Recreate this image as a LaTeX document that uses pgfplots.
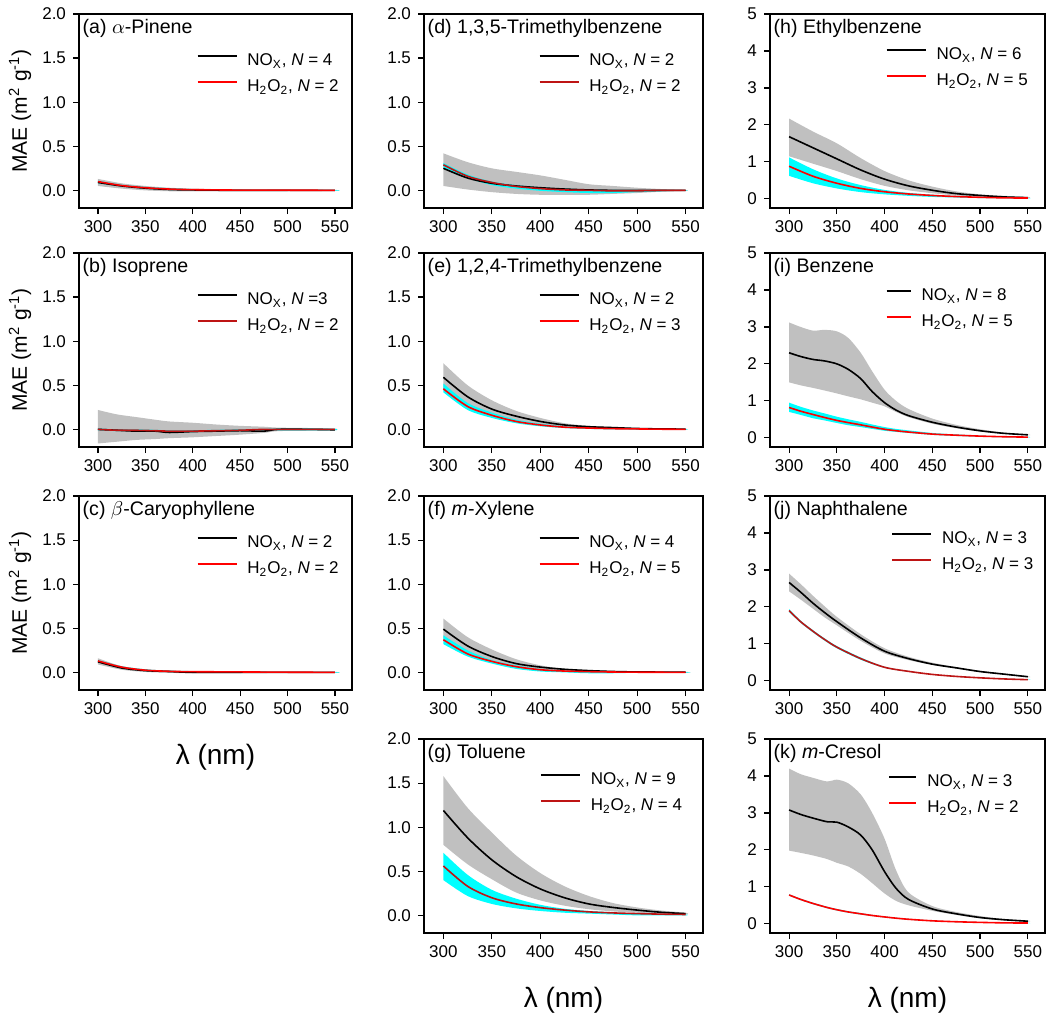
\documentclass[border=0pt]{standalone}
\usepackage{fontspec}
\setmainfont{Liberation Sans}
\usepackage{pgfplots}
\usepackage{pgfplotstable}
\pgfplotsset{compat=1.18}

\definecolor{bandgray}{RGB}{192,192,192}
\definecolor{bandcyan}{RGB}{0,255,255}
\definecolor{brightred}{RGB}{255,0,0}
\definecolor{darkred}{RGB}{190,20,20}

% mean curves: x, NOx (k), H2O2 (h)
% bands: x, gray band outline (g), cyan band outline (c); upper edge left to right, then lower edge back
\pgfplotstableread{
x k h
300 0.09 0.10
325 0.05 0.055
350 0.025 0.03
375 0.01 0.015
400 0.005 0.008
450 0.0 0.003
500 0.0 0.002
550 0.0 0.0
}\lA
\pgfplotstableread{
x g c
300 0.13 0.11
325 0.08 0.065
350 0.05 0.04
375 0.03 0.025
400 0.02 0.015
450 0.01 0.008
500 0.01 0.005
550 0.005 0.003
550 -0.005 -0.003
500 -0.01 -0.002
450 -0.01 -0.002
400 -0.01 0.0
375 -0.01 0.005
350 0.0 0.02
325 0.02 0.045
300 0.05 0.08
}\bA
\pgfplotstableread{
x k h
300 0.0 0.0
320 -0.01 -0.01
340 -0.02 -0.01
360 -0.02 -0.015
375 -0.035 -0.02
400 -0.025 -0.02
425 -0.02 -0.015
450 -0.015 -0.01
475 -0.02 0.0
490 0.0 0.0
525 0.0 0.0
550 -0.005 0.0
}\lB
\pgfplotstableread{
x g c
300 0.22 0.01
320 0.17 0.0
340 0.14 0.0
360 0.11 -0.005
375 0.09 -0.01
400 0.075 -0.01
425 0.055 -0.005
450 0.04 0.0
475 0.03 0.005
490 0.02 0.01
525 0.015 0.01
550 0.01 0.005
550 -0.01 -0.01
525 -0.015 -0.01
490 -0.02 -0.01
475 -0.04 -0.01
450 -0.06 -0.02
425 -0.075 -0.025
400 -0.09 -0.03
375 -0.10 -0.03
360 -0.11 -0.025
340 -0.12 -0.02
320 -0.14 -0.02
300 -0.16 -0.01
}\bB
\pgfplotstableread{
x k h
300 0.12 0.13
325 0.05 0.06
350 0.02 0.025
375 0.01 0.012
400 0.0 0.008
450 0.0 0.005
500 0.0 0.002
550 0.0 0.0
}\lC
\pgfplotstableread{
x g c
300 0.16 0.14
325 0.07 0.07
350 0.035 0.035
375 0.02 0.02
400 0.01 0.015
450 0.01 0.01
500 0.005 0.005
550 0.005 0.003
550 -0.005 -0.003
500 -0.005 -0.003
450 -0.01 0.0
400 -0.01 0.0
375 -0.005 0.005
350 0.005 0.015
325 0.03 0.05
300 0.09 0.12
}\bC
\pgfplotstableread{
x k h
300 0.25 0.29
325 0.14 0.16
350 0.08 0.09
375 0.05 0.045
400 0.03 0.02
425 0.015 0.005
450 0.005 0.0
475 0.0 -0.005
500 0.0 -0.005
525 0.0 0.0
550 0.0 0.0
}\lD
\pgfplotstableread{
x g c
300 0.42 0.31
325 0.32 0.18
350 0.25 0.10
375 0.21 0.06
400 0.17 0.035
425 0.12 0.02
450 0.07 0.01
475 0.05 0.005
500 0.03 0.0
525 0.015 0.0
550 0.005 0.002
550 -0.005 -0.002
525 -0.015 -0.01
500 -0.03 -0.02
475 -0.04 -0.03
450 -0.05 -0.03
425 -0.05 -0.02
400 -0.05 -0.005
375 -0.04 0.02
350 -0.02 0.06
325 0.01 0.14
300 0.05 0.26
}\bD
\pgfplotstableread{
x k h
300 0.59 0.46
325 0.37 0.26
350 0.23 0.16
375 0.15 0.09
400 0.09 0.05
425 0.05 0.025
450 0.03 0.015
475 0.02 0.008
500 0.01 0.005
525 0.005 0.002
550 0.003 0.0
}\lE
\pgfplotstableread{
x g c
300 0.75 0.52
325 0.50 0.30
350 0.33 0.19
375 0.21 0.11
400 0.13 0.065
425 0.07 0.035
450 0.04 0.02
475 0.025 0.012
500 0.015 0.008
525 0.01 0.005
550 0.005 0.003
550 0.0 -0.002
525 0.0 0.0
500 0.0 0.0
475 0.005 0.0
450 0.01 0.005
425 0.02 0.015
400 0.05 0.035
375 0.10 0.07
350 0.17 0.13
325 0.28 0.22
300 0.46 0.42
}\bE
\pgfplotstableread{
x k h
300 0.49 0.37
325 0.30 0.21
350 0.18 0.125
375 0.10 0.065
400 0.06 0.03
425 0.035 0.015
450 0.02 0.008
475 0.01 0.004
500 0.005 0.002
550 0.002 0.0
}\lF
\pgfplotstableread{
x g c
300 0.61 0.42
325 0.40 0.25
350 0.26 0.14
375 0.15 0.08
400 0.08 0.04
425 0.04 0.02
450 0.025 0.01
475 0.015 0.005
500 0.01 0.003
550 0.005 0.002
550 -0.002 -0.003
500 0.0 -0.005
475 0.0 -0.01
450 0.0 -0.01
425 0.01 0.0
400 0.03 0.01
375 0.06 0.04
350 0.12 0.10
325 0.22 0.18
300 0.38 0.32
}\bF
\pgfplotstableread{
x k h
300 1.19 0.56
325 0.88 0.33
350 0.63 0.20
375 0.44 0.13
400 0.30 0.088
425 0.20 0.06
450 0.13 0.04
475 0.09 0.028
500 0.06 0.02
525 0.035 0.014
550 0.02 0.01
}\lG
\pgfplotstableread{
x g c
300 1.58 0.71
325 1.22 0.46
350 0.94 0.29
375 0.68 0.19
400 0.48 0.12
425 0.33 0.075
450 0.22 0.05
475 0.14 0.035
500 0.09 0.02
525 0.055 0.015
550 0.03 0.01
550 0.01 0.0
525 0.015 0.0
500 0.03 0.0
475 0.045 0.01
450 0.07 0.02
425 0.11 0.03
400 0.17 0.05
375 0.26 0.08
350 0.41 0.13
325 0.58 0.22
300 0.80 0.40
}\bG
\pgfplotstableread{
x k h
300 1.68 0.88
325 1.38 0.61
350 1.08 0.42
375 0.78 0.28
400 0.53 0.19
425 0.35 0.13
450 0.23 0.09
475 0.14 0.06
500 0.09 0.04
525 0.05 0.025
550 0.03 0.02
}\lH
\pgfplotstableread{
x g c
300 2.17 1.12
325 1.82 0.80
350 1.50 0.55
375 1.10 0.37
400 0.75 0.24
425 0.50 0.16
450 0.33 0.11
475 0.20 0.075
500 0.12 0.05
525 0.08 0.035
550 0.05 0.02
550 0.02 0.01
525 0.035 0.015
500 0.06 0.02
475 0.09 0.035
450 0.15 0.05
425 0.23 0.08
400 0.35 0.12
375 0.53 0.18
350 0.75 0.28
325 0.95 0.42
300 1.15 0.62
}\bH
\pgfplotstableread{
x k h
300 2.30 0.82
312 2.20 0.72
325 2.12 0.63
337 2.08 0.55
350 2.00 0.47
362 1.85 0.41
375 1.60 0.35
387 1.25 0.29
400 0.95 0.23
412 0.75 0.19
425 0.60 0.155
450 0.42 0.10
475 0.29 0.07
500 0.19 0.045
525 0.12 0.028
550 0.08 0.018
}\lI
\pgfplotstableread{
x g c
300 3.12 0.95
312 3.00 0.84
325 2.90 0.74
337 2.92 0.66
350 2.88 0.57
362 2.70 0.50
375 2.30 0.43
387 1.80 0.36
400 1.30 0.29
412 1.00 0.24
425 0.78 0.20
450 0.52 0.13
475 0.35 0.09
500 0.23 0.06
525 0.14 0.035
550 0.09 0.025
550 0.07 0.01
525 0.11 0.015
500 0.17 0.03
475 0.26 0.05
450 0.38 0.08
425 0.56 0.13
412 0.70 0.16
400 0.85 0.19
387 0.95 0.24
375 1.04 0.29
362 1.12 0.34
350 1.20 0.40
337 1.28 0.47
325 1.35 0.53
312 1.42 0.62
300 1.50 0.70
}\bI
\pgfplotstableread{
x k h
300 2.66 1.90
312 2.40 1.60
325 2.10 1.34
337 1.85 1.12
350 1.60 0.91
375 1.16 0.60
400 0.80 0.365
425 0.60 0.255
450 0.45 0.172
475 0.35 0.118
500 0.25 0.08
525 0.18 0.05
550 0.11 0.03
}\lJ
\pgfplotstableread{
x g c
300 2.90 1.94
312 2.62 1.63
325 2.30 1.37
337 2.02 1.15
350 1.73 0.94
375 1.26 0.63
400 0.88 0.38
425 0.65 0.265
450 0.49 0.18
475 0.37 0.125
500 0.27 0.085
525 0.19 0.055
550 0.12 0.035
550 0.10 0.025
525 0.17 0.045
500 0.24 0.075
475 0.33 0.11
450 0.43 0.165
425 0.56 0.245
400 0.74 0.35
375 1.08 0.57
350 1.50 0.88
337 1.72 1.09
325 1.95 1.31
312 2.20 1.57
300 2.42 1.86
}\bJ
\pgfplotstableread{
x k h
300 3.08 0.78
312 2.96 0.66
325 2.86 0.55
340 2.76 0.44
350 2.75 0.38
362 2.62 0.32
375 2.40 0.27
387 2.00 0.225
400 1.41 0.185
412 0.96 0.152
425 0.66 0.122
450 0.40 0.08
475 0.27 0.055
500 0.17 0.038
525 0.11 0.025
550 0.07 0.02
}\lK
\pgfplotstableread{
x g c
300 4.20 0.80
312 4.05 0.68
325 3.95 0.57
340 3.85 0.46
350 3.90 0.40
362 3.80 0.34
375 3.50 0.29
387 3.00 0.24
400 2.30 0.20
412 1.45 0.165
425 0.85 0.135
450 0.48 0.09
475 0.32 0.065
500 0.21 0.045
525 0.13 0.03
550 0.09 0.025
550 0.06 0.015
525 0.09 0.02
500 0.15 0.03
475 0.24 0.045
450 0.35 0.07
425 0.50 0.11
412 0.62 0.14
400 0.82 0.17
387 1.10 0.21
375 1.35 0.25
362 1.55 0.30
350 1.65 0.36
340 1.75 0.42
325 1.85 0.53
312 1.92 0.64
300 1.98 0.76
}\bK

\pgfplotsset{
  panel/.style={
    scale only axis, height=97pt,
    xmin=280, xmax=568,
    xtick={300,350,400,450,500,550},
    tick pos=left, tick align=outside,
    major tick length=3pt,
    axis line style={line width=0.6pt},
    every tick/.style={black, line width=0.6pt},
    tick label style={font=\fontsize{8.5}{10}\selectfont},
    /pgf/number format/assume math mode=true,
    legend cell align=left,
    legend image code/.code={\draw[##1] (0pt,2.6pt) -- (19.5pt,2.6pt);},
    legend style={draw=none, fill=none, inner sep=0pt,
      font=\fontsize{8.5}{10}\selectfont,
      nodes={inner sep=0pt, text height=6.2pt, text depth=1.8pt},
      row sep=5pt, column sep=5pt,
      at={(axis description cs:0.43,0.80)}, anchor=north west},
  },
  lo/.style={ymin=-0.2, ymax=2, ytick={0,0.5,1,1.5,2},
    yticklabel style={/pgf/number format/fixed,
      /pgf/number format/fixed zerofill, /pgf/number format/precision=1}},
  hi/.style={ymin=-0.25, ymax=5, ytick={0,1,2,3,4,5}},
  ylab/.style={ylabel={MAE (m\textsuperscript{2} g\textsuperscript{-1})},
    ylabel style={at={(axis description cs:-0.216,0.5)}, anchor=center,
      font=\fontsize{10.5}{12}\selectfont}},
  xlab/.style={xlabel={λ (nm)},
    xlabel style={at={(axis description cs:0.5,-0.345)}, anchor=center,
      font=\fontsize{14}{16}\selectfont}},
}

% #1 band table, #2 line table, #3 colour of the H2O2 line
\newcommand\curves[3]{%
  \addplot[fill=bandgray, draw=none, smooth, forget plot] table[x=x, y=g] {#1};
  \addplot[fill=bandcyan, draw=none, smooth, forget plot] table[x=x, y=c] {#1};
  \addplot[black, line width=0.8pt, smooth] table[x=x, y=k] {#2};
  \addplot[#3, line width=0.8pt, smooth] table[x=x, y=h] {#2};
}
\newcommand\ptitle[1]{\node[anchor=west, inner sep=0pt, font=\fontsize{9.8}{11}\selectfont]
  at (rel axis cs:0.012,0.925) {#1};}

\begin{document}
\begin{tikzpicture}
\path[use as bounding box] (0pt,0pt) rectangle (525pt,-509.5pt);

% column 1
\begin{axis}[panel, lo, ylab, width=136.5pt, at={(39.5pt,-7pt)}, anchor=north west]
\curves{\bA}{\lA}{brightred}
\addlegendentry{NO\textsubscript{X}, \textit{N} = 4}
\addlegendentry{H\textsubscript{2}O\textsubscript{2}, \textit{N} = 2}
\ptitle{(a) $\alpha$-Pinene}
\end{axis}

\begin{axis}[panel, lo, ylab, width=136.5pt, at={(39.5pt,-126.5pt)}, anchor=north west]
\curves{\bB}{\lB}{darkred}
\addlegendentry{NO\textsubscript{X}, \textit{N} =3}
\addlegendentry{H\textsubscript{2}O\textsubscript{2}, \textit{N} = 2}
\ptitle{(b) Isoprene}
\end{axis}

\begin{axis}[panel, lo, ylab, xlab, width=136.5pt, at={(39.5pt,-248pt)}, anchor=north west]
\curves{\bC}{\lC}{brightred}
\addlegendentry{NO\textsubscript{X}, \textit{N} = 2}
\addlegendentry{H\textsubscript{2}O\textsubscript{2}, \textit{N} = 2}
\ptitle{(c) $\beta$-Caryophyllene}
\end{axis}

% column 2
\begin{axis}[panel, lo, width=139.5pt, at={(212pt,-7pt)}, anchor=north west,
  legend style={at={(axis description cs:0.41,0.80)}}]
\curves{\bD}{\lD}{darkred}
\addlegendentry{NO\textsubscript{X}, \textit{N} = 2}
\addlegendentry{H\textsubscript{2}O\textsubscript{2}, \textit{N} = 2}
\ptitle{(d) 1,3,5-Trimethylbenzene}
\end{axis}

\begin{axis}[panel, lo, width=139.5pt, at={(212pt,-126.5pt)}, anchor=north west,
  legend style={at={(axis description cs:0.41,0.80)}}]
\curves{\bE}{\lE}{brightred}
\addlegendentry{NO\textsubscript{X}, \textit{N} = 2}
\addlegendentry{H\textsubscript{2}O\textsubscript{2}, \textit{N} = 3}
\ptitle{(e) 1,2,4-Trimethylbenzene}
\end{axis}

\begin{axis}[panel, lo, width=139.5pt, at={(212pt,-248pt)}, anchor=north west,
  legend style={at={(axis description cs:0.41,0.80)}}]
\curves{\bF}{\lF}{brightred}
\addlegendentry{NO\textsubscript{X}, \textit{N} = 4}
\addlegendentry{H\textsubscript{2}O\textsubscript{2}, \textit{N} = 5}
\ptitle{(f) \textit{m}-Xylene}
\end{axis}

\begin{axis}[panel, lo, xlab, width=139.5pt, at={(212pt,-369.5pt)}, anchor=north west,
  legend style={at={(axis description cs:0.415,0.83)}}]
\curves{\bG}{\lG}{darkred}
\addlegendentry{NO\textsubscript{X}, \textit{N} = 9}
\addlegendentry{H\textsubscript{2}O\textsubscript{2}, \textit{N} = 4}
\ptitle{(g) Toluene}
\end{axis}

% column 3
\begin{axis}[panel, hi, width=137.5pt, at={(385pt,-7pt)}, anchor=north west,
  legend style={at={(axis description cs:0.42,0.83)}}]
\curves{\bH}{\lH}{brightred}
\addlegendentry{NO\textsubscript{X}, \textit{N} = 6}
\addlegendentry{H\textsubscript{2}O\textsubscript{2}, \textit{N} = 5}
\ptitle{(h) Ethylbenzene}
\end{axis}

\begin{axis}[panel, hi, width=137.5pt, at={(385pt,-126.5pt)}, anchor=north west,
  legend image code/.code={\draw[#1] (0pt,2.6pt) -- (12pt,2.6pt);},
  legend style={at={(axis description cs:0.42,0.82)}}]
\curves{\bI}{\lI}{brightred}
\addlegendentry{NO\textsubscript{X}, \textit{N} = 8}
\addlegendentry{H\textsubscript{2}O\textsubscript{2}, \textit{N} = 5}
\ptitle{(i) Benzene}
\end{axis}

\begin{axis}[panel, hi, width=137.5pt, at={(385pt,-248pt)}, anchor=north west,
  legend style={at={(axis description cs:0.44,0.82)}}]
\curves{\bJ}{\lJ}{darkred}
\addlegendentry{NO\textsubscript{X}, \textit{N} = 3}
\addlegendentry{H\textsubscript{2}O\textsubscript{2}, \textit{N} = 3}
\ptitle{(j) Naphthalene}
\end{axis}

\begin{axis}[panel, hi, xlab, width=137.5pt, at={(385pt,-369.5pt)}, anchor=north west,
  legend image code/.code={\draw[#1] (0pt,2.6pt) -- (13.5pt,2.6pt);},
  legend style={at={(axis description cs:0.43,0.82)}}]
\curves{\bK}{\lK}{brightred}
\addlegendentry{NO\textsubscript{X}, \textit{N} = 3}
\addlegendentry{H\textsubscript{2}O\textsubscript{2}, \textit{N} = 2}
\ptitle{(k) \textit{m}-Cresol}
\end{axis}
\end{tikzpicture}
\end{document}
